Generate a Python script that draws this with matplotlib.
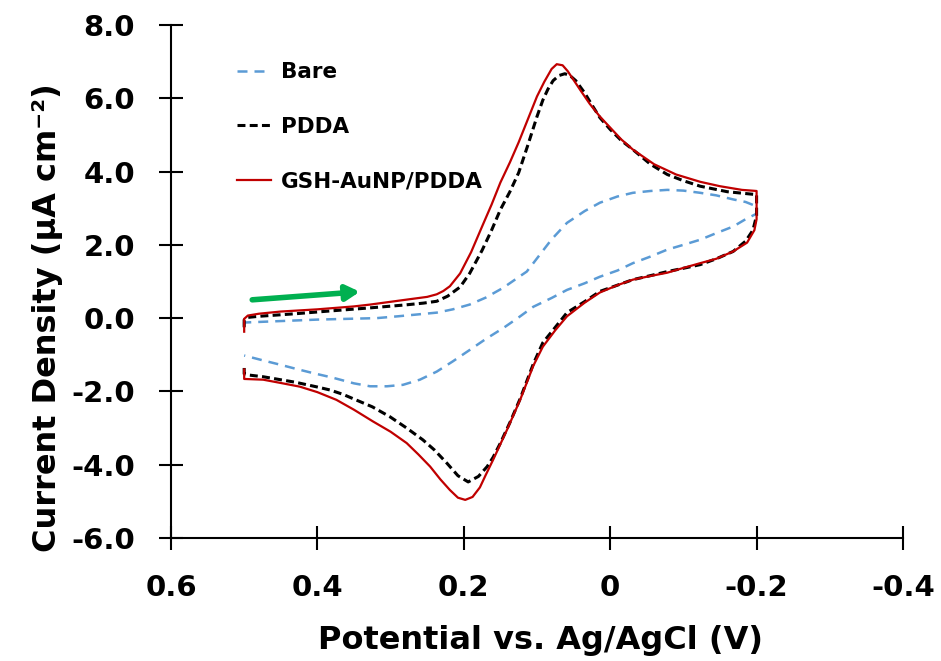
import matplotlib
matplotlib.use('Agg')
import matplotlib.pyplot as plt

# cyclic voltammograms, forward scan 0.5 -> -0.2 V then back to 0.5 V
bare_v = [0.5, 0.5, 0.45, 0.4, 0.34, 0.319, 0.29, 0.237, 0.215, 0.192, 0.17, 0.146, 0.125,
          0.114, 0.105, 0.08, 0.059, 0.035, 0.014, -0.01, -0.031, -0.055, -0.078, -0.1,
          -0.123, -0.145, -0.168, -0.185, -0.2,
          -0.2, -0.185, -0.168, -0.145, -0.123, -0.1, -0.078, -0.055, -0.031, -0.01, 0.014,
          0.035, 0.059, 0.08, 0.105, 0.114, 0.125, 0.146, 0.17, 0.192, 0.215, 0.237, 0.26,
          0.283, 0.305, 0.328, 0.35, 0.38, 0.406, 0.43, 0.451, 0.475, 0.5]
bare_i = [-0.2, -0.12, -0.08, -0.04, -0.01, 0.0, 0.05, 0.15, 0.24, 0.37, 0.56, 0.83, 1.12,
          1.27, 1.5, 2.15, 2.6, 2.92, 3.15, 3.32, 3.42, 3.47, 3.5, 3.48,
          3.42, 3.35, 3.24, 3.17, 3.05,
          2.85, 2.7, 2.5, 2.32, 2.14, 2.0, 1.87, 1.68, 1.5, 1.3, 1.13,
          0.95, 0.77, 0.55, 0.31, 0.18, 0.02, -0.27, -0.57, -0.87, -1.18, -1.46, -1.68,
          -1.82, -1.86, -1.86, -1.78, -1.62, -1.5, -1.38, -1.27, -1.15, -1.02]

pdda_v = [0.5, 0.5, 0.495, 0.48, 0.43, 0.38, 0.328, 0.28, 0.255, 0.237, 0.222, 0.205, 0.192,
          0.175, 0.162, 0.15, 0.137, 0.125, 0.112, 0.1, 0.092, 0.085, 0.078, 0.07, 0.062,
          0.055, 0.047, 0.035, 0.025, 0.014, 0.0, -0.015, -0.031, -0.055, -0.078, -0.1,
          -0.123, -0.16, -0.2,
          -0.2, -0.195, -0.185, -0.168, -0.145, -0.123, -0.1, -0.078, -0.055, -0.031, -0.01,
          0.014, 0.035, 0.059, 0.075, 0.092, 0.105, 0.123, 0.137, 0.15, 0.16, 0.168, 0.18,
          0.194, 0.208, 0.223, 0.24, 0.256, 0.278, 0.301, 0.325, 0.351, 0.365, 0.383, 0.4,
          0.43, 0.474, 0.495, 0.5, 0.5]
pdda_i = [-0.25, -0.05, 0.02, 0.05, 0.12, 0.2, 0.28, 0.36, 0.41, 0.46, 0.6, 0.85, 1.22,
          1.85, 2.4, 2.96, 3.45, 3.97, 4.75, 5.5, 5.95, 6.25, 6.48, 6.62, 6.67,
          6.62, 6.48, 6.15, 5.82, 5.47, 5.15, 4.85, 4.6, 4.2, 3.92, 3.75,
          3.6, 3.45, 3.37,
          2.8, 2.4, 2.1, 1.82, 1.62, 1.46, 1.36, 1.27, 1.16, 1.05, 0.9,
          0.73, 0.45, 0.15, -0.25, -0.67, -1.25, -2.2, -2.85, -3.41, -3.8, -4.05, -4.32,
          -4.47, -4.3, -3.96, -3.6, -3.32, -3.0, -2.69, -2.42, -2.2, -2.08, -1.96, -1.88,
          -1.75, -1.6, -1.55, -1.52, -1.36]

gsh_v = [0.5, 0.5, 0.495, 0.48, 0.45, 0.4, 0.35, 0.328, 0.28, 0.25, 0.237, 0.228, 0.219,
         0.205, 0.19, 0.175, 0.162, 0.15, 0.137, 0.125, 0.112, 0.1, 0.09, 0.08, 0.073,
         0.065, 0.058, 0.05, 0.04, 0.028, 0.014, 0.0, -0.015, -0.031, -0.06, -0.09, -0.123,
         -0.15, -0.18, -0.2,
         -0.2, -0.197, -0.187, -0.168, -0.145, -0.123, -0.1, -0.078, -0.055, -0.031, -0.01,
         0.014, 0.035, 0.059, 0.075, 0.092, 0.105, 0.123, 0.141, 0.16, 0.17, 0.178, 0.188,
         0.198, 0.208, 0.219, 0.232, 0.246, 0.262, 0.278, 0.3, 0.324, 0.35, 0.374, 0.4,
         0.424, 0.45, 0.474, 0.5, 0.5]
gsh_i = [-0.37, -0.02, 0.07, 0.12, 0.18, 0.24, 0.32, 0.37, 0.5, 0.58, 0.65, 0.74, 0.87,
         1.22, 1.8, 2.5, 3.1, 3.7, 4.25, 4.8, 5.45, 6.05, 6.45, 6.8, 6.93,
         6.9, 6.74, 6.5, 6.2, 5.85, 5.5, 5.2, 4.88, 4.6, 4.2, 3.92, 3.72,
         3.6, 3.5, 3.47,
         2.7, 2.4, 2.06, 1.82, 1.62, 1.5, 1.37, 1.24, 1.15, 1.05, 0.9,
         0.7, 0.42, 0.05, -0.33, -0.78, -1.3, -2.23, -3.05, -3.87, -4.28, -4.62, -4.88,
         -4.96, -4.9, -4.69, -4.4, -4.05, -3.72, -3.41, -3.1, -2.82, -2.5, -2.23, -2.02,
         -1.87, -1.77, -1.68, -1.66, -1.4]

arrow_start = (0.489, 0.5)
arrow_end = (0.342, 0.72)

plt.rcParams['font.family'] = 'DejaVu Sans'
plt.rcParams['font.weight'] = 'bold'

fig = plt.figure(figsize=(9.41, 6.61), dpi=100)
ax = fig.add_axes([0.1817, 0.1861, 0.7779, 0.7761])

ax.plot(bare_v, bare_i, color='#5B9BD5', lw=1.8, dashes=(4.0, 2.8), label='Bare')
ax.plot(pdda_v, pdda_i, color='black', lw=2.2, dashes=(2.6, 1.4), label='PDDA')
ax.plot(gsh_v, gsh_i, color='#C00000', lw=1.6, label='GSH-AuNP/PDDA')

ax.annotate('', xy=arrow_end, xytext=arrow_start,
            arrowprops=dict(arrowstyle='-|>,head_length=0.8,head_width=0.45',
                            color='#00B050', lw=4, shrinkA=0, shrinkB=0))

ax.set_xlim(0.6, -0.4)
ax.set_ylim(-6, 8)
ax.set_xticks([0.6, 0.4, 0.2, 0, -0.2, -0.4])
ax.set_xticklabels(['0.6', '0.4', '0.2', '0', '-0.2', '-0.4'])
ax.set_yticks(range(-6, 9, 2))
ax.set_yticklabels(['%.1f' % v for v in range(-6, 9, 2)])

for s in ['top', 'right']:
    ax.spines[s].set_visible(False)
for s in ['left', 'bottom']:
    ax.spines[s].set_linewidth(1.5)
ax.tick_params(direction='inout', length=17.5, width=1.5, labelsize=21, pad=17)

ax.set_xlabel('Potential vs. Ag/AgCl (V)', fontsize=23, fontweight='bold')
ax.set_ylabel('Current Density (μA cm⁻²)', fontsize=23, fontweight='bold')
ax.xaxis.set_label_coords(0.505, -0.17)
ax.yaxis.set_label_coords(-0.148, 0.43)

leg = ax.legend(loc='upper left', bbox_to_anchor=(0.09, 0.927), frameon=False,
                fontsize=15.5, handlelength=1.6, handletextpad=0.45, labelspacing=1.6,
                borderpad=0, borderaxespad=0)

fig.savefig('out.png', dpi=100)
